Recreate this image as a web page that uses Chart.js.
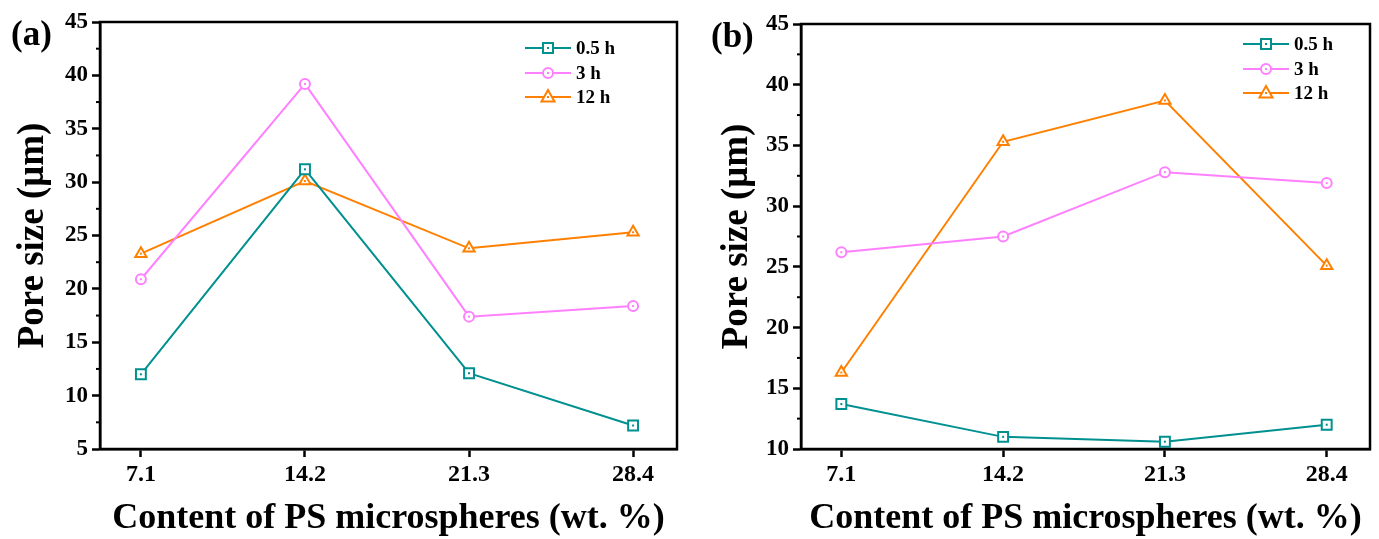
<!DOCTYPE html>
<html>
<head>
<meta charset="utf-8">
<script src="https://cdn.jsdelivr.net/npm/chart.js@4.4.1/dist/chart.umd.min.js"></script>
<style>
body { margin: 0; background: #fff; width: 1379px; height: 539px; position: relative; overflow: hidden; font-family: "Liberation Serif", serif; }
.panel { position: absolute; top: 0; height: 539px; }
.tag { position: absolute; font-weight: bold; font-size: 35px; line-height: 1; }
.legend { position: absolute; font-weight: bold; font-size: 19px; }
.legend .row { height: 24.5px; display: flex; align-items: center; }
.legend svg { margin-right: 5px; }
</style>
</head>
<body>
<div class="panel" style="left:0;width:690px"><canvas id="chartA" width="690" height="539"></canvas></div>
<div class="panel" style="left:690px;width:689px"><canvas id="chartB" width="689" height="539"></canvas></div>
<div class="tag" style="left:11px;top:16px">(a)</div>
<div class="tag" style="left:711px;top:18px">(b)</div>
<div class="legend" id="legendA" style="left:525px;top:36px"></div>
<div class="legend" id="legendB" style="left:1243px;top:32px"></div>
<script>
// x categories (wt. %)
var contents = [7.1, 14.2, 21.3, 28.4];
var seriesNames = ['0.5 h', '3 h', '12 h'];
var colors = ['#009090', '#FF80FF', '#FF8000'];
var shapes = ['rect', 'circle', 'triangle'];
var radii = [7, 5, 6.5];

// panel (a) pore size, um
var poreA = [
    [12.0, 31.2, 12.1, 7.2],
    [20.9, 39.2, 17.4, 18.4],
    [23.3, 30.1, 23.8, 25.3]
];
// panel (b) pore size, um
var poreB = [
    [13.7, 11.0, 10.6, 12.0],
    [26.2, 27.5, 32.8, 31.9],
    [16.3, 35.3, 38.7, 25.1]
];
var yRangeA = [5, 45];
var yRangeB = [10, 45];

var serif = '"Liberation Serif", "Times New Roman", serif';

// frame round the plot + minor ticks + small dot inside markers
var framePlugin = {
    id: 'frame',
    afterDatasetsDraw: function (chart) {
        var ctx = chart.ctx;
        ctx.save();
        chart.data.datasets.forEach(function (ds, i) {
            var meta = chart.getDatasetMeta(i);
            ctx.fillStyle = ds.borderColor;
            meta.data.forEach(function (pt) {
                ctx.fillRect(pt.x - 1, pt.y - 1, 2, 2);
            });
        });
        ctx.restore();
    },
    afterDraw: function (chart) {
        var ctx = chart.ctx, a = chart.chartArea, y = chart.scales.y;
        ctx.save();
        ctx.strokeStyle = '#000';
        ctx.lineWidth = 2.5;
        ctx.strokeRect(a.left, a.top, a.right - a.left, a.bottom - a.top);
        ctx.lineWidth = 2;
        for (var v = y.min + 2.5; v < y.max; v += 5) {
            var py = y.getPixelForValue(v);
            ctx.beginPath();
            ctx.moveTo(a.left - 4, py);
            ctx.lineTo(a.left, py);
            ctx.stroke();
        }
        ctx.restore();
    }
};

function makeChart(canvasId, values, yRange, yWidth, yTitlePad, rightPad, topPad) {
    var ctx = document.getElementById(canvasId).getContext('2d');
    var datasets = values.map(function (vals, i) {
        return {
            label: seriesNames[i],
            data: contents.map(function (c, j) { return { x: c, y: vals[j] }; }),
            borderColor: colors[i],
            backgroundColor: '#fff',
            borderWidth: 2,
            pointStyle: shapes[i],
            pointRadius: radii[i],
            pointBorderWidth: 2,
            pointBackgroundColor: '#fff',
            pointBorderColor: colors[i]
        };
    });
    return new Chart(ctx, {
        type: 'line',
        data: { datasets: datasets },
        options: {
            responsive: false,
            animation: false,
            layout: { padding: { left: 0, right: rightPad, top: topPad, bottom: 0 } },
            plugins: { legend: { display: false }, tooltip: { enabled: false } },
            scales: {
                x: {
                    type: 'linear',
                    min: 5.33,
                    max: 30.3,
                    afterBuildTicks: function (scale) {
                        scale.ticks = contents.map(function (c) { return { value: c }; });
                    },
                    afterFit: function (scale) { scale.height = 90; },
                    ticks: {
                        color: '#000',
                        padding: 3,
                        font: { family: serif, size: 24, weight: 'bold' },
                        callback: function (v) { return v.toFixed(1); }
                    },
                    grid: { drawOnChartArea: false, color: '#000', tickLength: 8, tickWidth: 2.5 },
                    border: { color: '#000', width: 2.5 },
                    title: {
                        display: true,
                        text: 'Content of PS microspheres (wt. %)',
                        color: '#000',
                        font: { family: serif, size: 36, weight: 'bold' },
                        padding: { top: 0, bottom: -1 }
                    }
                },
                y: {
                    min: yRange[0],
                    max: yRange[1],
                    afterFit: function (scale) { scale.width = yWidth; },
                    ticks: {
                        stepSize: 5,
                        color: '#000',
                        padding: 4,
                        font: { family: serif, size: 23, weight: 'bold' }
                    },
                    grid: { drawOnChartArea: false, color: '#000', tickLength: 8, tickWidth: 2.5 },
                    border: { color: '#000', width: 2.5 },
                    title: {
                        display: true,
                        text: 'Pore size (\u03bcm)',
                        color: '#000',
                        font: { family: serif, size: 37, weight: 'bold' },
                        padding: { top: yTitlePad, bottom: 0 }
                    }
                }
            }
        },
        plugins: [framePlugin]
    });
}

function markerSvg(i) {
    var c = colors[i], m;
    if (shapes[i] === 'rect') m = '<rect x="18" y="6" width="10" height="10" fill="#fff" stroke="' + c + '" stroke-width="2"/>';
    else if (shapes[i] === 'circle') m = '<circle cx="23" cy="11" r="5" fill="#fff" stroke="' + c + '" stroke-width="2"/>';
    else m = '<polygon points="23,4 29.5,15.5 16.5,15.5" fill="#fff" stroke="' + c + '" stroke-width="2"/>';
    return '<svg width="46" height="22"><line x1="0" y1="11" x2="46" y2="11" stroke="' + c + '" stroke-width="2"/>' + m +
        '<rect x="22" y="10" width="2" height="2" fill="' + c + '"/></svg>';
}

function makeLegend(id) {
    var html = '';
    seriesNames.forEach(function (n, i) {
        html += '<div class="row">' + markerSvg(i) + '<span>' + n + '</span></div>';
    });
    document.getElementById(id).innerHTML = html;
}

makeChart('chartA', poreA, yRangeA, 100, 11, 13, 22);
makeChart('chartB', poreB, yRangeB, 111, 25, 7, 24);
makeLegend('legendA');
makeLegend('legendB');
</script>
</body>
</html>
